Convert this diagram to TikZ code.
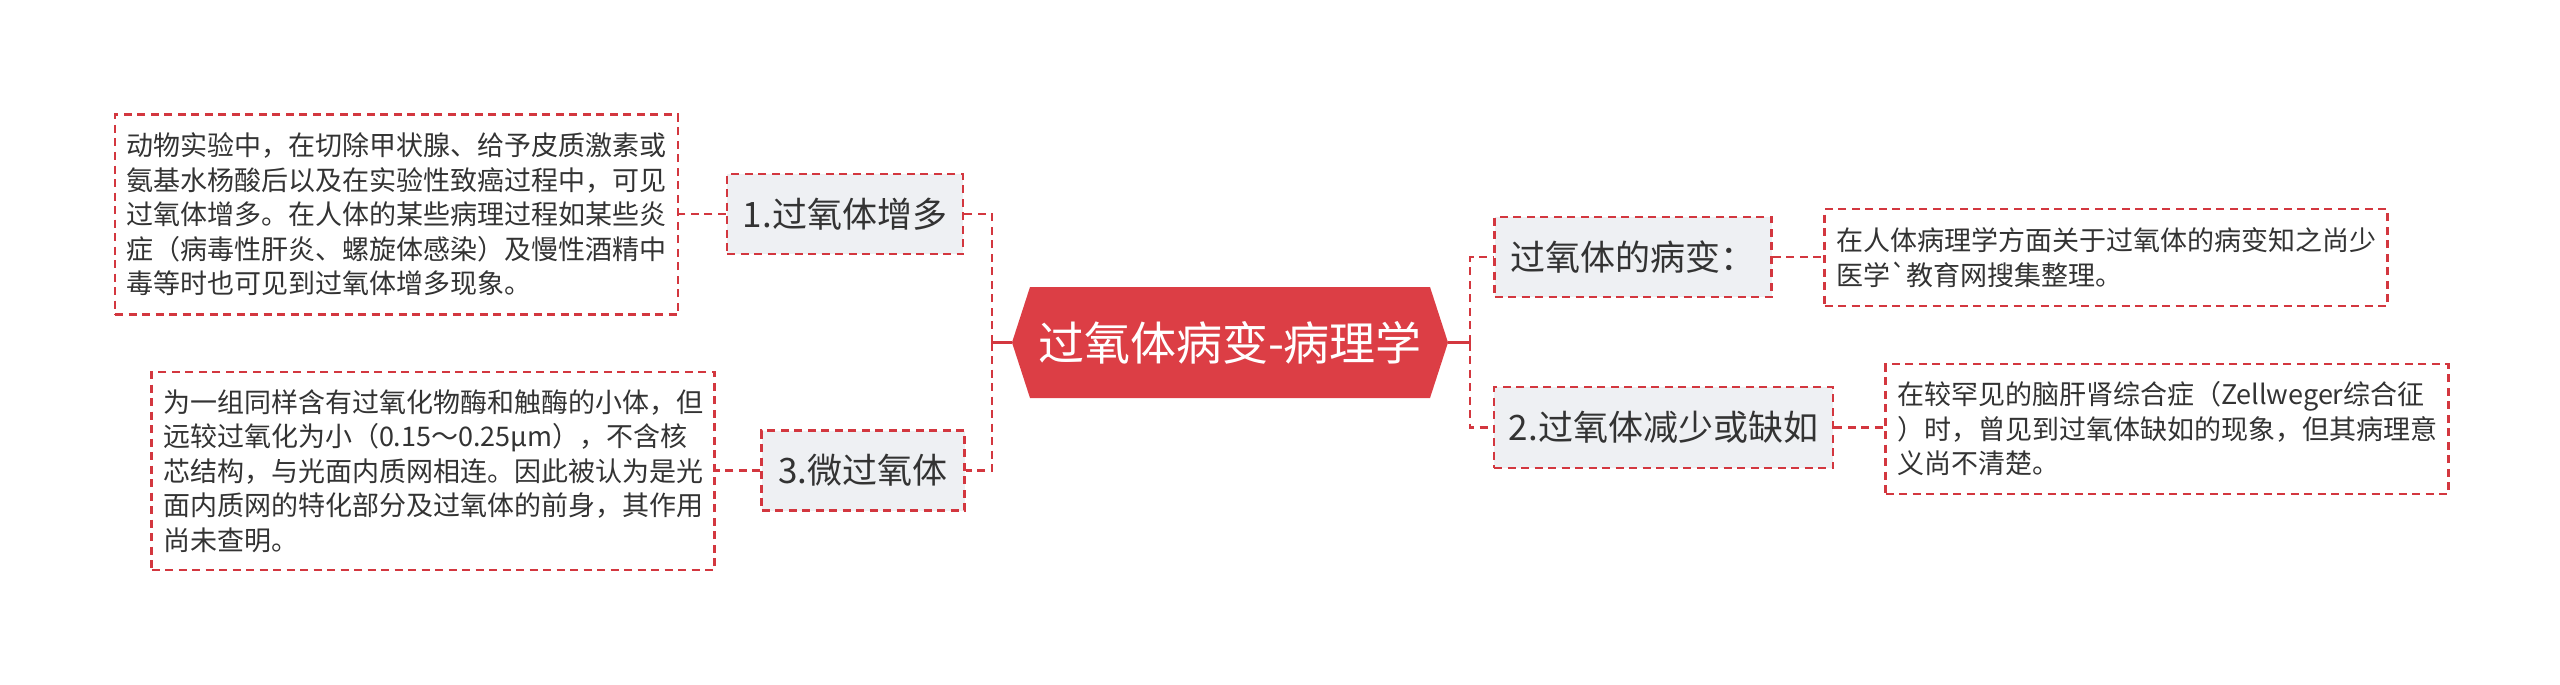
\documentclass[tikz,border=0pt]{standalone}
\usepackage{fontspec}
\setmainfont{Noto Sans CJK SC}
\newfontfamily\rawcjk{Noto Sans CJK SC}[Ligatures=ResetAll]
\definecolor{linered}{HTML}{D3373F}
\definecolor{hexred}{HTML}{DC3E45}
\definecolor{nodegray}{HTML}{EEF0F3}
\definecolor{txt}{HTML}{333333}
\tikzset{
  dashred/.style={draw=linered, line width=2.5pt, dash pattern=on 8pt off 5.5pt},
  mainnode/.style={dashred, fill=nodegray, text=txt, inner sep=0pt,
    font=\fontsize{35}{42}\selectfont},
  leafnode/.style={dashred, fill=white, text=txt, inner xsep=11.5pt, inner ysep=0pt,
    text width=540pt, align=left, font=\fontsize{27}{34.5}\selectfont},
  link/.style={dashred},
  solidlink/.style={draw=linered, line width=2.5pt},
}
\begin{document}
\begin{tikzpicture}[x=1pt,y=-1pt]
\useasboundingbox (0,0) rectangle (2560,685);
% central hexagon
\fill[hexred, shift={(1230,342.5)}] (-218,0) -- (-200,-55.5) -- (200,-55.5) -- (218,0) -- (200,55.5) -- (-200,55.5) -- cycle;
\node[minimum width=436pt, minimum height=111pt, inner sep=0pt, text=white,
  font=\fontsize{46}{50}\selectfont] (C) at (1230,342.5) {过氧体病变-病理学};
% main nodes
\node[mainnode, minimum width=236pt, minimum height=80pt] (N1) at (845,214) {1.过氧体增多};
\node[mainnode, minimum width=203pt, minimum height=80pt] (N3) at (863,470.5) {3.微过氧体};
\node[mainnode, minimum width=277pt, minimum height=80pt] (NR) at (1633,257) {过氧体的病变：};
\node[mainnode, minimum width=339pt, minimum height=81pt] (N2) at (1663.5,427.5) {2.过氧体减少或缺如};
% leaves
\node[leafnode, minimum height=200pt] (L1) at (396.5,214.5) {动物实验中，在切除甲状腺、给予皮质激素或\\氨基水杨酸后以及在实验性致癌过程中，可见\\过氧体增多。在人体的某些病理过程如某些炎\\症（病毒性肝炎、螺旋体感染）及慢性酒精中\\毒等时也可见到过氧体增多现象。};
\node[leafnode, minimum height=198pt] (L3) at (433,471) {为一组同样含有过氧化物酶和触酶的小体，但\\远较过氧化为小（0.15～0.25μm），不含核\\芯结构，与光面内质网相连。因此被认为是光\\面内质网的特化部分及过氧体的前身，其作用\\尚未查明。};
\node[leafnode, minimum height=97pt] (R1) at (2106,257.5) {在人体病理学方面关于过氧体的病变知之尚少\\医学{\rawcjk\symbol{96}}教育网搜集整理。};
\node[leafnode, minimum height=130pt] (R2) at (2167,429) {在较罕见的脑肝肾综合症（Zellweger综合征\\）时，曾见到过氧体缺如的现象，但其病理意\\义尚不清楚。};
% junctions
\coordinate (JL) at (992,342.5);
\coordinate (JR) at (1470,342.5);
\draw[solidlink] (C.west) -- (JL);
\draw[solidlink] (C.east) -- (JR);
\draw[link] (JL) |- (N1.east);
\draw[link] (JL) |- (N3.east);
\draw[link] (JR) |- (NR.west);
\draw[link] (JR) |- (N2.west);
% leaf links
\draw[link] (N1.west) -- (L1.east |- N1.west);
\draw[link] (N3.west) -- (L3.east |- N3.west);
\draw[link] (NR.east) -- (R1.west |- NR.east);
\draw[link] (N2.east) -- (R2.west |- N2.east);
\end{tikzpicture}
\end{document}
